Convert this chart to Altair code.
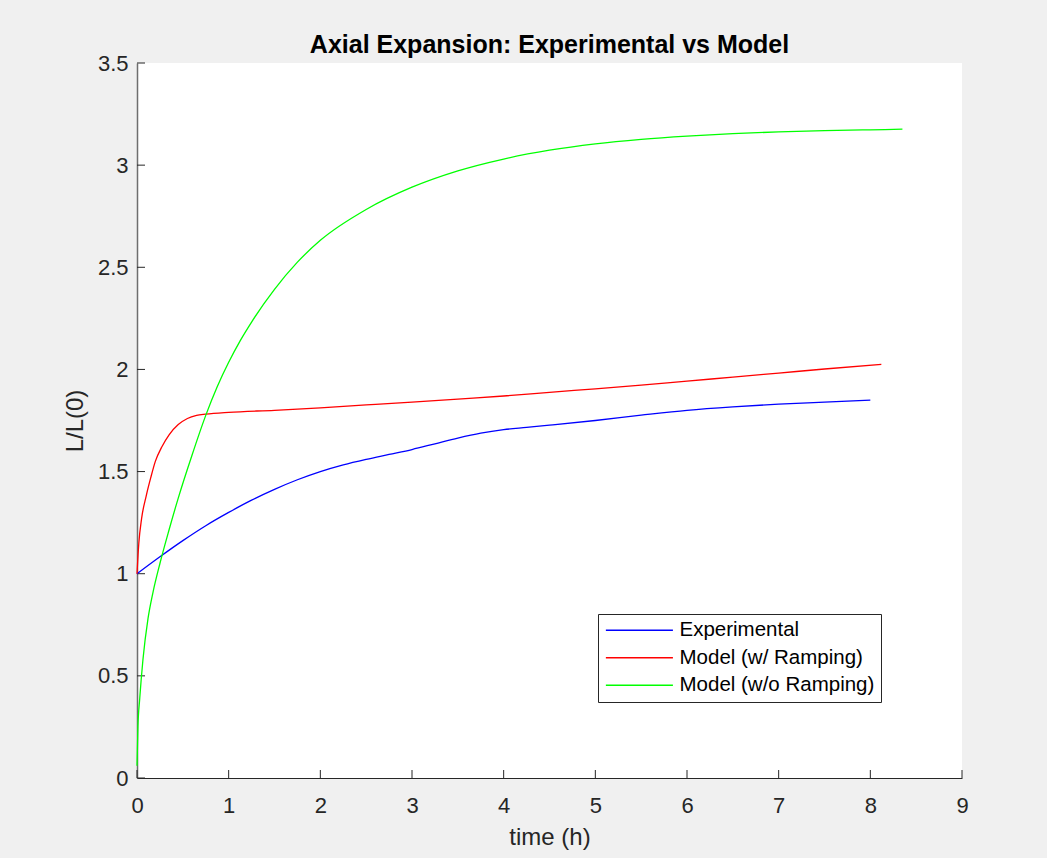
import altair as alt
import pandas as pd

# ---- data ----
exp_t = [0, 0.25, 0.5, 0.75, 1, 1.25, 1.5, 1.75, 2, 2.25, 2.5, 2.75, 3, 3.25, 3.5, 3.75, 4, 4.25, 4.5, 5, 5.5, 6, 6.5, 7, 7.5, 8]
exp_v = [1.0, 1.083, 1.162, 1.235, 1.30, 1.36, 1.413, 1.46, 1.50, 1.533, 1.56, 1.584, 1.608, 1.636, 1.664, 1.688, 1.705, 1.716, 1.727, 1.75, 1.776, 1.80, 1.817, 1.83, 1.84, 1.85]

ramp_t = [0, 0.02, 0.05, 0.1, 0.15, 0.2, 0.27, 0.35, 0.45, 0.55, 0.65, 0.75, 1.0, 1.5, 2, 2.5, 3, 3.5, 4, 4.5, 5, 5.5, 6, 6.5, 7, 7.5, 8.12]
ramp_v = [1.0, 1.15, 1.27, 1.38, 1.47, 1.55, 1.62, 1.68, 1.73, 1.76, 1.775, 1.781, 1.79, 1.80, 1.812, 1.826, 1.84, 1.855, 1.87, 1.888, 1.905, 1.923, 1.943, 1.962, 1.982, 2.002, 2.025]

noramp_t = [0, 0.01, 0.03, 0.065, 0.12, 0.175, 0.25, 0.35, 0.45, 0.6, 0.75, 0.875, 1.0, 1.125, 1.25, 1.5, 1.75, 2, 2.5, 3, 3.5, 4, 4.5, 5, 5.5, 6, 6.5, 7, 7.5, 8, 8.35]
noramp_v = [0.06, 0.25, 0.39, 0.58, 0.78, 0.91, 1.05, 1.215, 1.37, 1.58, 1.775, 1.915, 2.035, 2.14, 2.232, 2.392, 2.525, 2.632, 2.783, 2.892, 2.972, 3.03, 3.073, 3.104, 3.126, 3.142, 3.154, 3.163, 3.169, 3.173, 3.176]

series_names = ["Experimental", "Model (w/ Ramping)", "Model (w/o Ramping)"]
series_colors = ["#0000ff", "#ff0000", "#00ff00"]

x_ticks = [0, 1, 2, 3, 4, 5, 6, 7, 8, 9]
y_ticks = [0, 0.5, 1, 1.5, 2, 2.5, 3, 3.5]

rows = []
for name, ts, vs in zip(series_names, [exp_t, ramp_t, noramp_t], [exp_v, ramp_v, noramp_v]):
    for i, (t, v) in enumerate(zip(ts, vs)):
        rows.append({"series": name, "t": t, "v": v, "order": i})
df = pd.DataFrame(rows)

FONT = "Liberation Sans"
W, H = 825, 715

xscale = alt.Scale(domain=[0, 9], nice=False, zero=False)
yscale = alt.Scale(domain=[0, 3.5], nice=False, zero=False)

lines = alt.Chart(df).mark_line(strokeWidth=1.3, interpolate="monotone").encode(
    x=alt.X("t:Q", scale=xscale,
            axis=alt.Axis(values=x_ticks, format="d", title="time (h)",
                          titleX=W / 2, titleY=66, titleBaseline="alphabetic",
                          titleAlign="center", labelPadding=17, labelFlush=False,
                          domainColor="#262626")),
    y=alt.Y("v:Q", scale=yscale,
            axis=alt.Axis(values=y_ticks, format="~g", title="L/L(0)",
                          titleX=-55, titleY=H / 2, titleAngle=270,
                          titleBaseline="alphabetic", titleAlign="center",
                          labelPadding=9, labelFlush=False,
                          domainColor="#6e6e6e", domainWidth=1.5)),
    color=alt.Color("series:N",
                    scale=alt.Scale(domain=series_names, range=series_colors),
                    sort=series_names,
                    legend=alt.Legend(orient="none", legendX=461, legendY=551,
                                      title=None, symbolType="M-1,0H7",
                                      symbolSize=281, symbolStrokeWidth=1.3,
                                      labelFontSize=20.5, labelFont=FONT,
                                      labelColor="black", labelOffset=55,
                                      padding=6, rowPadding=6.5, labelLimit=0,
                                      fillColor="white", strokeColor="#262626")),
    order="order:Q",
)

xtick_df = pd.DataFrame({"t": x_ticks})
ytick_df = pd.DataFrame({"v": y_ticks})

xticks = alt.Chart(xtick_df).mark_rule(color="#262626", strokeWidth=1).encode(
    x=alt.X("t:Q", scale=xscale),
    y=alt.value(H), y2=alt.value(H - 8),
)
yticks = alt.Chart(ytick_df).mark_rule(color="#262626", strokeWidth=1).encode(
    y=alt.Y("v:Q", scale=yscale),
    x=alt.value(0), x2=alt.value(8),
)

chart = alt.layer(xticks, yticks, lines).properties(
    width=W, height=H,
    title=alt.TitleParams("Axial Expansion: Experimental vs Model",
                          anchor="middle", frame="group", offset=9, dy=35,
                          baseline="alphabetic", font=FONT, fontSize=25,
                          fontWeight="bold", color="black"),
    background="#f0f0f0",
    padding={"left": 137, "top": 63, "right": 85, "bottom": 80},
    autosize=alt.AutoSizeParams(type="none"),
).configure_view(
    fill="white", stroke=None
).configure_axis(
    grid=False, ticks=False, tickSize=0,
    labelFont=FONT, labelFontSize=22, labelColor="#262626",
    titleFont=FONT, titleFontSize=24, titleColor="#262626", titleFontWeight="normal",
    domainWidth=1,
)

chart.save("out.html", embed_options={"renderer": "svg", "actions": False})
